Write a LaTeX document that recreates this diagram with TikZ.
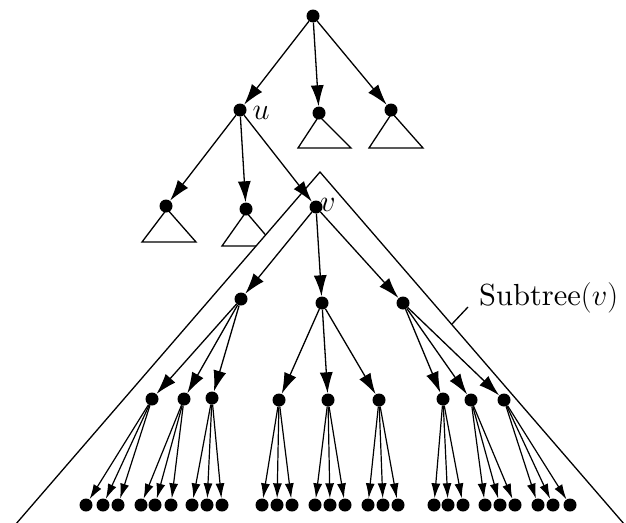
\RequirePackage{fix-cm}
\documentclass[tikz,border=0pt]{standalone}
\usepackage{fontspec}
\newfontfamily\lmten{lmroman10-regular}[Extension=.otf]
\usetikzlibrary{arrows.meta}
\begin{document}
\begin{tikzpicture}[x=1pt,y=-1pt,
  dot/.style={circle,fill=black,inner sep=0pt,minimum size=13pt},
  edge/.style={-{Latex[length=21pt,width=13pt]},line width=1.3pt},
  leafedge/.style={-{Latex[length=15pt,width=9pt]},line width=1.2pt},
  subtri/.style={line width=1.3pt},
  lbl/.style={inner sep=0pt,font=\lmten\fontsize{30.5}{36}\selectfont}]
\useasboundingbox (0,0) rectangle (626,522);

% small subtrees hanging below inner nodes
\draw[subtri] (319,116) -- (298,148) -- (351,148) -- cycle;
\draw[subtri] (392,113) -- (369,148) -- (423,148) -- cycle;
\draw[subtri] (167,209) -- (142,242) -- (196,242) -- cycle;
\draw[subtri] (246,212) -- (222,246) -- (275,246) -- cycle;

% the big subtree of v (white, covering what lies behind it)
\coordinate (apex) at (320,172);
\coordinate (bl) at (9,532);
\coordinate (br) at (631,532);
\fill[white] (apex) -- (bl) -- (br) -- cycle;
\draw[subtri] (bl) -- (apex) -- (br);

% label of the subtree
\node[lbl,anchor=base west] (lab) at (479,305) {Subtree$(v)$};
\coordinate (tickA) at (452,324);
\coordinate (tickB) at (468,307);
\draw[subtri] (tickA) -- (tickB);

% upper nodes
\node[dot] (r) at (313,16) {};
\node[dot] (u) at (240,110) {};
\node[dot] (m1) at (319,113) {};
\node[dot] (m2) at (391,110) {};
\node[dot] (a) at (166,206) {};
\node[dot] (b) at (246,209) {};
\node[dot] (v) at (316,207) {};
\node[lbl,anchor=base] (ul) at (261,119) {$u$};
\node[lbl,anchor=base] (vl) at (328,211) {$v$};

\draw[edge] (r) -- (u);
\draw[edge] (r) -- (m1);
\draw[edge] (r) -- (m2);
\draw[edge] (u) -- (a);
\draw[edge] (u) -- (b);
\draw[edge] (u) -- (v);

% children of v
\node[dot] (A) at (241,299) {};
\node[dot] (B) at (322,303) {};
\node[dot] (C) at (403,303) {};
\draw[edge] (v) -- (A);
\draw[edge] (v) -- (B);
\draw[edge] (v) -- (C);

% grandchildren of v and their three leaves each
\foreach \p/\n/\x/\y/\la/\lb/\lc in {
    A/A1/152/399/86/103/118, A/A2/184/399/141/155/171, A/A3/212/398/192/207/222,
    B/B1/279/400/262/277/292, B/B2/328/400/315/330/345, B/B3/379/400/368/383/398,
    C/C1/443/399/434/448/463, C/C2/471/400/485/500/515, C/C3/504/400/538/553/570}
  {
  \node[dot] (\n) at (\x,\y) {};
  \draw[edge] (\p) -- (\n);
  \node[dot] (\n-1) at (\la,505) {};
  \node[dot] (\n-2) at (\lb,505) {};
  \node[dot] (\n-3) at (\lc,505) {};
  \draw[leafedge] (\n) -- (\n-1);
  \draw[leafedge] (\n) -- (\n-2);
  \draw[leafedge] (\n) -- (\n-3);
  }
\end{tikzpicture}
\end{document}
